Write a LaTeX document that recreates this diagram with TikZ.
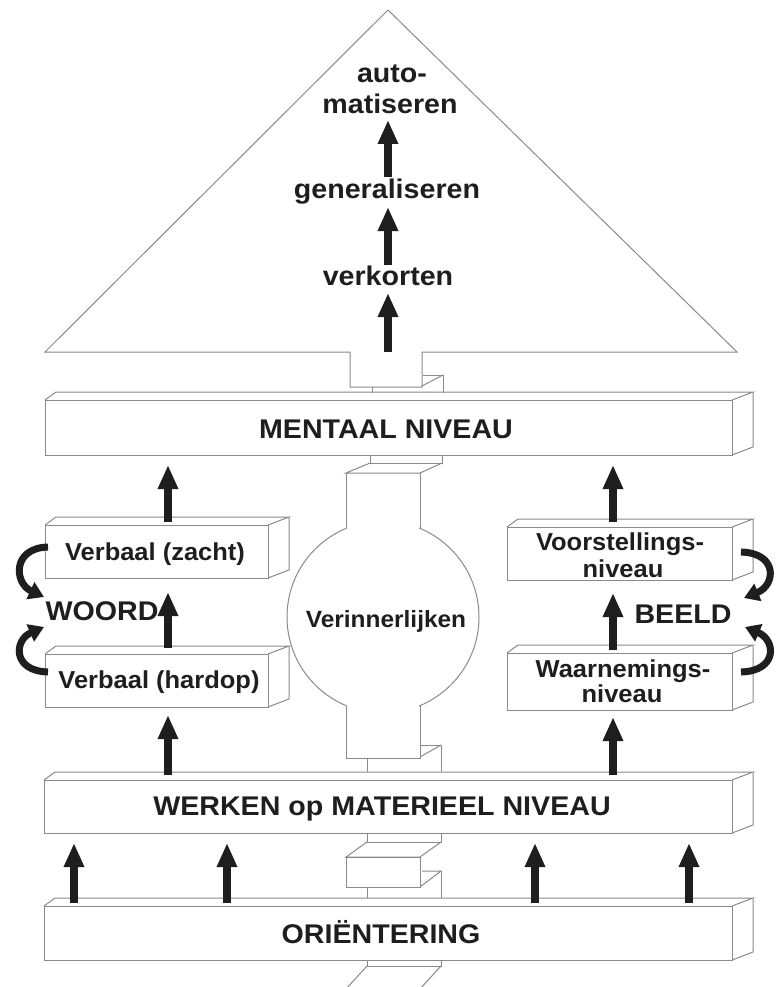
\documentclass[tikz,border=0pt]{standalone}
\usepackage{fontspec}
\setmainfont{Liberation Sans}
\newfontfamily\widesans[FakeStretch=1.06]{Liberation Sans}
\newfontfamily\boxsans[FakeStretch=1.04]{Liberation Sans}
\usetikzlibrary{arrows.meta}
\definecolor{edge}{RGB}{138,138,138}
\definecolor{ink}{RGB}{30,30,30}
\newcommand\myslab[4]{% left, top, right, bottom
  \draw[outline] (#1,#2) rectangle (#3,#4);
  \draw[outline] (#1,#2) -- (#1+11,#2-8) -- (#3+21,#2-8) -- (#3,#2);
  \draw[outline] (#3+21,#2-8) -- (#3+21,#4-8) -- (#3,#4);
}
\newcommand\uparr[4]{% name, x, ytail, ytip
  \coordinate (#1s) at (#2,#3);
  \coordinate (#1e) at (#2,#4);
  \draw[bigarr] (#1s) -- (#1e);
}
\begin{document}
\begin{tikzpicture}[x=1pt,y=-1pt,
  outline/.style={draw=edge, line width=1pt, line join=miter},
  bigarr/.style={draw=ink, line width=8.5pt, -{Triangle[width=19pt,length=24pt]}},
  curvarr/.style={draw=ink, line width=7pt, -{Triangle[width=18pt,length=15pt]}},
  lab/.style={font=\widesans\fontsize{27}{30}\selectfont\bfseries, text=ink, anchor=base, inner sep=0pt},
  boxlab/.style={font=\boxsans\fontsize{24.5}{27}\selectfont\bfseries, text=ink, anchor=base, inner sep=0pt},
]
\useasboundingbox (0,0) rectangle (779,987);
\fill[white] (0,0) rectangle (779,987);

% pyramid
\draw[outline] (45,352) -- (388,10) -- (737,352) -- (422,352) -- (422,387) -- (350,387) -- (350,352) -- cycle;
\draw[outline] (372,387) -- (372,393);
\draw[outline] (423,375) -- (443,375) -- (443,393);
\draw[outline] (443,375) -- (422,386);

\node[lab] (auto) at (392,83) {auto-};
\node[lab] (matis) at (390,114) {matiseren};
\node[lab] (gener) at (387,199) {generaliseren};
\node[lab] (verk) at (388,285) {verkorten};
\uparr{p1}{388}{352}{293}
\uparr{p2}{388}{265}{207}
\uparr{p3}{388}{177}{120}

% bars
\myslab{45}{400}{732}{455}
\myslab{44}{780}{732}{833}
\myslab{44}{906}{732}{960}
\node[lab] (mentaal) at (386,438) {MENTAAL NIVEAU};
\node[lab] (werken) at (382,815) {WERKEN op MATERIEEL NIVEAU};
\node[lab] (orient) at (381,943) {ORIËNTERING};

% side boxes
\myslab{45}{525}{268}{578}
\myslab{45}{654}{268}{707}
\myslab{507}{527}{732}{580}
\myslab{507}{653}{732}{710}
\node[boxlab] (zacht) at (155,560) {Verbaal (zacht)};
\node[boxlab] (hardop) at (159,688) {Verbaal (hardop)};
\node[boxlab] (voor1) at (620,550) {Voorstellings-};
\node[boxlab] (voor2) at (623,577) {niveau};
\node[boxlab] (waar1) at (623,677) {Waarnemings-};
\node[boxlab] (waar2) at (622,702) {niveau};

% central column with circle
\draw[outline] (370,455) -- (370,463) -- (442,463) -- (442,455);
\draw[outline] (370,463) -- (346,473) -- (420,473) -- (442,463);
\draw[outline, fill=white] (383,617) circle[radius=96pt];
\fill[white] (346.6,474) rectangle (419.4,560);
\fill[white] (346.6,680) rectangle (419.4,757.4);
\draw[outline] (346,473) -- (346,528.4);
\draw[outline] (420,473) -- (420,528.4);
\draw[outline] (346,705.6) -- (346,758) -- (420,758) -- (420,705.6);
\node[boxlab, font=\boxsans\fontsize{23.5}{26}\selectfont\bfseries] (verin) at (386,627) {Verinnerlijken};
\draw[outline] (367,758) -- (367,772);
\draw[outline] (421,745) -- (441,745) -- (441,772);
\draw[outline] (420,757) -- (441,745);

% column between WERKEN and ORIENTERING
\draw[outline] (367,833) -- (367,842) -- (441,842) -- (441,833);
\draw[outline] (367,842) -- (346,857) -- (420,857) -- (441,842);
\draw[outline] (346,857) rectangle (420,887);
\draw[outline] (420,887) -- (441,871) -- (422,871);
\draw[outline] (441,871) -- (441,898);
\draw[outline] (367,887) -- (367,898);

% below ORIENTERING
\begin{scope}
\clip (0,0) rectangle (779,987);
\draw[outline] (367,960) -- (367,966) -- (441,966) -- (441,960);
\draw[outline] (367,966) -- (345,990);
\draw[outline] (441,966) -- (419,990);
\end{scope}

% labels WOORD / BEELD
\node[lab] (woord) at (102,620) {WOORD};
\node[lab] (beeld) at (683,623) {BEELD};

% vertical arrows
\uparr{l1}{168}{522}{465}
\uparr{l2}{168}{648}{592}
\uparr{l3}{168}{775}{715}
\uparr{r1}{613}{522}{465}
\uparr{r2}{613}{650}{593}
\uparr{r3}{613}{775}{717}
\uparr{b1}{74}{903}{843}
\uparr{b2}{227}{903}{843}
\uparr{b3}{535}{903}{843}
\uparr{b4}{689}{903}{843}

% curved arrows
\coordinate (cl1s) at (48,547); \coordinate (cl1e) at (44,597);
\coordinate (cl2s) at (48,672); \coordinate (cl2e) at (44,627);
\coordinate (cr1s) at (741,552); \coordinate (cr1e) at (744,598);
\coordinate (cr2s) at (741,672); \coordinate (cr2e) at (745,627);
\draw[curvarr] (cl1s) .. controls (12,548) and (14,583) .. (cl1e);
\draw[curvarr] (cl2s) .. controls (12,671) and (14,640) .. (cl2e);
\draw[curvarr] (cr1s) .. controls (778,553) and (776,585) .. (cr1e);
\draw[curvarr] (cr2s) .. controls (778,671) and (776,640) .. (cr2e);
\end{tikzpicture}
\end{document}
